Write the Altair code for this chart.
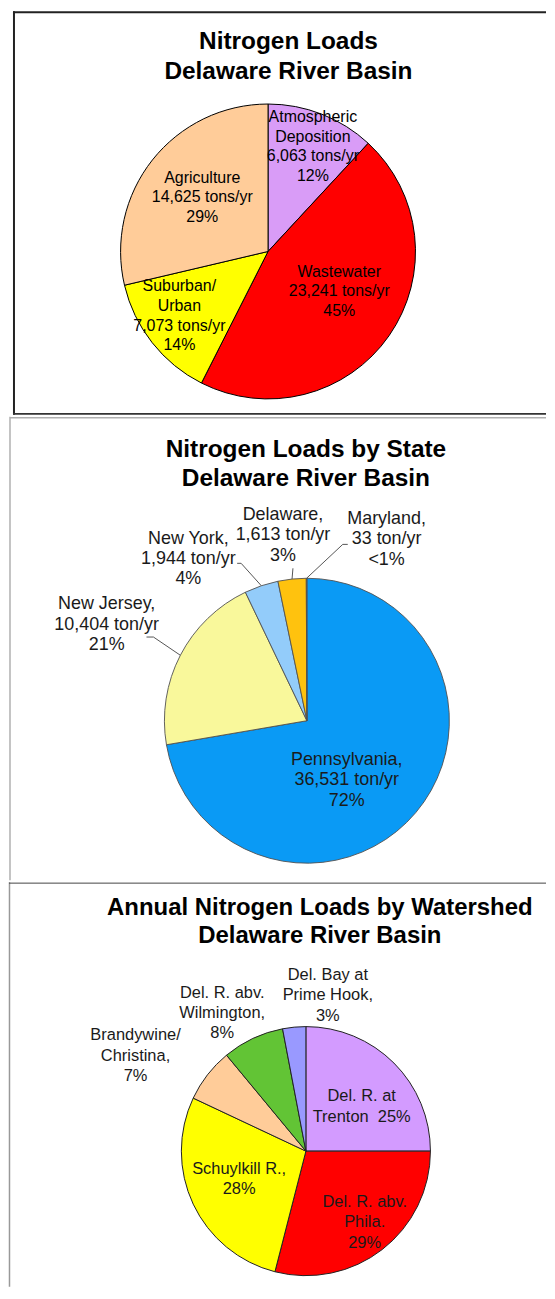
import math
import altair as alt
import pandas as pd

FONT = "Liberation Sans"

# ---------------- data ----------------
P1_TITLE = ["Nitrogen Loads", "Delaware River Basin"]
P1_CATS = ["Atmospheric Deposition", "Wastewater", "Suburban/Urban", "Agriculture"]
P1_NAMES = [["Atmospheric", "Deposition"], ["Wastewater"], ["Suburban/", "Urban"], ["Agriculture"]]
P1_LOADS = [6063, 23241, 7073, 14625]
P1_PCTS = ["12%", "45%", "14%", "29%"]
P1_UNIT = "tons/yr"
P1_COLORS = ["#D99CF7", "#FF0000", "#FFFF00", "#FFCC99"]

P2_TITLE = ["Nitrogen Loads by State", "Delaware River Basin"]
P2_CATS = ["Pennsylvania", "New Jersey", "New York", "Delaware", "Maryland"]
P2_LOADS = [36531, 10404, 1944, 1613, 33]
P2_PCTS = ["72%", "21%", "4%", "3%", "<1%"]
P2_UNIT = "ton/yr"
P2_COLORS = ["#0A9AF5", "#F9F89B", "#93CCFA", "#FFC20E", "#FF9900"]

P3_TITLE = ["Annual Nitrogen Loads by Watershed", "Delaware River Basin"]
P3_CATS = ["Del. R. at Trenton", "Del. R. abv. Phila.", "Schuylkill R.",
           "Brandywine/Christina", "Del. R. abv. Wilmington", "Del. Bay at Prime Hook"]
P3_PCTS = [25, 29, 28, 7, 8, 3]
P3_LABELS = [["Del. R. at", "Trenton\u00a0 25%"], ["Del. R. abv.", "Phila.", "29%"],
             ["Schuylkill R.,", "28%"], ["Brandywine/", "Christina,", "7%"],
             ["Del. R. abv.", "Wilmington,", "8%"], ["Del. Bay at", "Prime Hook,", "3%"]]
P3_COLORS = ["#D39BFF", "#FF0000", "#FFFF00", "#FFCC99", "#62C435", "#9999FF"]

# ---------------- layout (pixels, panel-local) ----------------
W = 539
H1, H2, H3 = 406, 466, 406
# label anchors: (center x, center y of first line)
P1_LABEL_POS = [(305, 105), (331.5, 260), (171, 275), (194, 166)]
P2_LABEL_POS = [(339, 344), (98, 188), (180, 122), (275, 98), (379, 102)]
P3_LABEL_POS = [(354, 214), (357, 320), (231, 287), (127, 153), (214, 110), (320, 92)]
# leader elbows / ends for panel 2 (None = no leader)
P2_LEADER = [None, ((145, 222), (138, 222)), ((233, 148), (229, 148)),
             ((285, 153), (285, 153)), ((335, 129), (340, 129))]

ONE = pd.DataFrame({"k": [0]})


def mid_angles(vals):
    tot = float(sum(vals))
    out, cum = [], 0.0
    for v in vals:
        out.append(2 * math.pi * (cum + v / 2.0) / tot)
        cum += v
    return out


def title_layer(lines, x, y1c, fs, lh):
    return alt.Chart(pd.DataFrame({"t": ["\n".join(lines)]})).mark_text(
        font=FONT, fontSize=fs, fontWeight="bold", lineHeight=lh, lineBreak="\n",
        align="center", baseline="top", color="#000000"
    ).encode(text="t:N", x=alt.value(x), y=alt.value(y1c - 0.43 * fs))


def hrule(x1, x2, y, color, w):
    return alt.Chart(ONE).mark_rule(color=color, strokeWidth=w).encode(
        x=alt.value(x1), x2=alt.value(x2), y=alt.value(y))


def vrule(x, y1, y2, color, w):
    return alt.Chart(ONE).mark_rule(color=color, strokeWidth=w).encode(
        x=alt.value(x), y=alt.value(y1), y2=alt.value(y2))


def pie_layers(cats, vals, colors, labels, label_pos, cx, cy, r, fs, lh,
               stroke, stroke_w, text_color):
    df = pd.DataFrame({
        "cat": cats, "val": vals, "idx": list(range(len(cats))),
        "label": labels,
        "lx": [p[0] for p in label_pos],
        "ly": [p[1] - 0.43 * fs for p in label_pos],
    })
    base = alt.Chart(df)
    arcs = base.mark_arc(outerRadius=r, stroke=stroke, strokeWidth=stroke_w).encode(
        theta=alt.Theta("val:Q", stack=True),
        order=alt.Order("idx:Q"),
        color=alt.Color("cat:N", scale=alt.Scale(domain=cats, range=colors), legend=None),
        x=alt.value(cx), y=alt.value(cy),
    )
    text = base.mark_text(
        font=FONT, fontSize=fs, lineHeight=lh, lineBreak="\n",
        align="center", baseline="top", color=text_color
    ).encode(
        x=alt.X("lx:Q", scale=None, axis=None),
        y=alt.Y("ly:Q", scale=None, axis=None),
        text="label:N",
    )
    return arcs, text


# ---------------- panel 1 ----------------
p1_labels = ["\n".join(n + [f"{v:,} {P1_UNIT}", p]) for n, v, p in zip(P1_NAMES, P1_LOADS, P1_PCTS)]
a1, t1 = pie_layers(P1_CATS, P1_LOADS, P1_COLORS, p1_labels, P1_LABEL_POS,
                    260, 241, 148, 16, 19.7, "#000000", 1, "#000000")
panel1 = alt.layer(
    a1, t1,
    title_layer(P1_TITLE, 280.5, 29, 24.5, 30),
    vrule(5, 0, 405, "#222222", 2),
    hrule(4, W, 1, "#222222", 2),
    hrule(4, W, 404, "#333333", 2),
).properties(width=W, height=H1)

# ---------------- panel 2 ----------------
p2_labels = [f"{c},\n{v:,} {P2_UNIT}\n{p}" for c, v, p in zip(P2_CATS, P2_LOADS, P2_PCTS)]
CX2, CY2, R2 = 299, 306, 143
a2, t2 = pie_layers(P2_CATS, P2_LOADS, P2_COLORS, p2_labels, P2_LABEL_POS,
                    CX2, CY2, R2, 18, 20.5, "#505050", 0.9, "#1a1a1a")
angs = mid_angles(P2_LOADS)
lead_rows = []
for c, a, ld in zip(P2_CATS, angs, P2_LEADER):
    if ld is None:
        continue
    (bx, by), (ex, ey) = ld
    lead_rows.append({"cat": c,
                      "sx": CX2 + R2 * math.sin(a), "sy": CY2 - R2 * math.cos(a),
                      "bx": bx, "by": by, "ex": ex, "ey": ey})
lead_df = pd.DataFrame(lead_rows)
lead1 = alt.Chart(lead_df).mark_rule(color="#555555", strokeWidth=1).encode(
    x=alt.X("sx:Q", scale=None, axis=None), y=alt.Y("sy:Q", scale=None, axis=None),
    x2="bx:Q", y2="by:Q")
lead2 = alt.Chart(lead_df).mark_rule(color="#555555", strokeWidth=1).encode(
    x=alt.X("bx:Q", scale=None, axis=None), y=alt.Y("by:Q", scale=None, axis=None),
    x2="ex:Q", y2="ey:Q")
panel2 = alt.layer(
    a2, lead1, lead2, t2,
    title_layer(P2_TITLE, 298, 33, 24.5, 28.5),
    vrule(1, 1, H2, "#b0b0b0", 1.5),
    hrule(1, W, 2, "#b0b0b0", 1.5),
).properties(width=W, height=H2)

# ---------------- panel 3 ----------------
p3_labels = ["\n".join(l) for l in P3_LABELS]
a3, t3 = pie_layers(P3_CATS, P3_PCTS, P3_COLORS, p3_labels, P3_LABEL_POS,
                    298, 270, 125, 16.5, 20.5, "#222222", 1, "#1a1a1a")
panel3 = alt.layer(
    a3, t3,
    title_layer(P3_TITLE, 312, 24, 24, 28.5),
    vrule(0.5, 0, H3, "#999999", 1.5),
    hrule(0, W, 1, "#444444", 1),
).properties(width=W, height=H3)

chart = alt.vconcat(panel1, panel2, panel3, spacing=0).resolve_scale(
    color="independent", theta="independent"
).properties(padding=0).configure_view(stroke=None).configure_concat(spacing=0)

chart.save("out.html", embed_options={"renderer": "svg", "actions": False})
